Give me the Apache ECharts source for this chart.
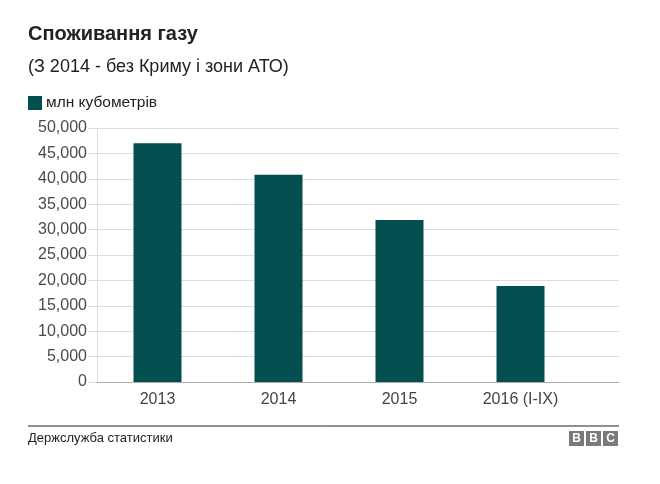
<!DOCTYPE html>
<html>
<head>
<meta charset="utf-8">
<script src="https://cdn.jsdelivr.net/npm/echarts@6/dist/echarts.min.js"></script>
<style>
  html, body { margin: 0; padding: 0; background: #fff; }
  #chart { width: 660px; height: 484px; }
</style>
</head>
<body>
<div id="chart"></div>
<script>
var years = ['2013', '2014', '2015', '2016 (I-IX)'];
var gasUse = [47000, 40800, 31900, 18900];
var yTicks = [0, 5000, 10000, 15000, 20000, 25000, 30000, 35000, 40000, 45000, 50000];

var FONT = '"Liberation Sans", Arial, sans-serif';
var BAR = '#034e4f';

var myChart = echarts.init(document.getElementById('chart'));
var option = {
    backgroundColor: '#fff',
    textStyle: { fontFamily: FONT },
    animation: false,
    title: [{
        text: 'Споживання газу',
        left: 23, top: 19,
        textStyle: { fontSize: 20, fontWeight: 'bold', color: '#222', fontFamily: FONT }
    }, {
        text: '(З 2014 - без Криму і зони АТО)',
        left: 23, top: 53,
        textStyle: { fontSize: 18, fontWeight: 'normal', color: '#222', fontFamily: FONT }
    }],
    legend: {
        data: ['млн кубометрів'],
        left: 23, top: 90,
        itemWidth: 14, itemHeight: 14,
        itemGap: 5,
        icon: 'rect',
        textStyle: { fontSize: 15.5, color: '#222', fontFamily: FONT, padding: [0, 0, 0, -1] }
    },
    grid: [
        { left: 97, right: 41, top: 128, bottom: 102 },
        { left: 97, width: 484, top: 128, bottom: 102 }
    ],
    xAxis: [{
        type: 'value', gridIndex: 0, min: 0, max: 1,
        axisLine: { show: true, lineStyle: { color: '#aaa', width: 1 } },
        axisTick: { show: false }, axisLabel: { show: false }, splitLine: { show: false }
    }, {
        type: 'category', gridIndex: 1, data: years,
        axisLine: { show: false }, axisTick: { show: false },
        axisLabel: { fontSize: 16, color: '#444', margin: 10, fontFamily: FONT }
    }],
    yAxis: [{
        type: 'value', gridIndex: 0,
        min: yTicks[0], max: yTicks[yTicks.length - 1], interval: yTicks[1] - yTicks[0],
        axisLine: { show: true, lineStyle: { color: '#ddd' } },
        axisTick: { show: true, length: 9, lineStyle: { color: '#ddd' } },
        axisLabel: {
            fontSize: 16, color: '#4a4a4a', margin: 10, fontFamily: FONT,
            formatter: function (v) { return v.toLocaleString('en-US'); }
        },
        splitLine: { show: true, lineStyle: { color: '#ddd' } }
    }, {
        type: 'value', gridIndex: 1,
        min: yTicks[0], max: yTicks[yTicks.length - 1],
        show: false
    }],
    series: [{
        name: 'млн кубометрів',
        type: 'bar',
        xAxisIndex: 1, yAxisIndex: 1,
        barWidth: 48,
        itemStyle: { color: BAR },
        data: gasUse
    }],
    graphic: [
        { type: 'line', shape: { x1: 28, y1: 426, x2: 619, y2: 426 }, style: { stroke: '#222', lineWidth: 1 } },
        { type: 'text', left: 28, top: 432, style: { text: 'Держслужба статистики', fontSize: 13, fill: '#222', fontFamily: FONT } },
        { type: 'group', left: 569, top: 431, children: [
            { type: 'rect', shape: { x: 0, y: 0, width: 15, height: 15 }, style: { fill: '#7a7a7a' } },
            { type: 'rect', shape: { x: 17, y: 0, width: 15, height: 15 }, style: { fill: '#7a7a7a' } },
            { type: 'rect', shape: { x: 34, y: 0, width: 15, height: 15 }, style: { fill: '#7a7a7a' } },
            { type: 'text', style: { x: 7.5, y: 8, text: 'B', align: 'center', verticalAlign: 'middle', fontSize: 12, fontWeight: 'bold', fill: '#fff', fontFamily: FONT } },
            { type: 'text', style: { x: 24.5, y: 8, text: 'B', align: 'center', verticalAlign: 'middle', fontSize: 12, fontWeight: 'bold', fill: '#fff', fontFamily: FONT } },
            { type: 'text', style: { x: 41.5, y: 8, text: 'C', align: 'center', verticalAlign: 'middle', fontSize: 12, fontWeight: 'bold', fill: '#fff', fontFamily: FONT } }
        ] }
    ]
};
myChart.setOption(option);
</script>
</body>
</html>
